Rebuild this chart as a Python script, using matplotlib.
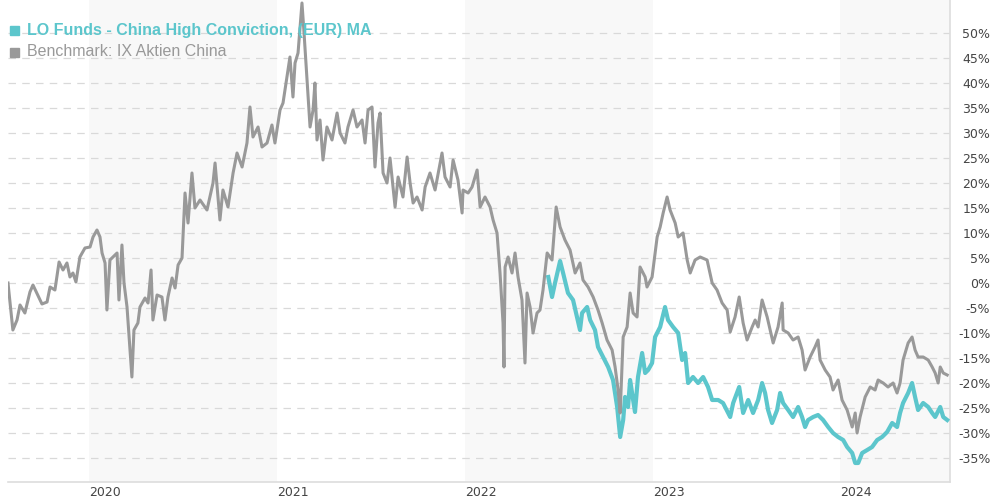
import matplotlib
matplotlib.use("Agg")
import matplotlib.pyplot as plt
from matplotlib.patches import Rectangle

# benchmark: decimal year, performance in %
bench_t = [2019.566, 2019.592, 2019.614, 2019.630, 2019.656, 2019.683, 2019.699, 2019.747, 2019.774, 2019.790,
           2019.816, 2019.838, 2019.859, 2019.880, 2019.896, 2019.912, 2019.928, 2019.949, 2019.976, 2020.003,
           2020.019, 2020.040, 2020.056, 2020.067, 2020.083, 2020.093, 2020.109, 2020.136, 2020.147, 2020.157,
           2020.173, 2020.184, 2020.200, 2020.216, 2020.226, 2020.237, 2020.258, 2020.269, 2020.296, 2020.312,
           2020.328, 2020.338, 2020.360, 2020.386, 2020.402, 2020.418, 2020.440, 2020.456, 2020.472, 2020.493,
           2020.509, 2020.525, 2020.546, 2020.562, 2020.589, 2020.626, 2020.658, 2020.669, 2020.695, 2020.711,
           2020.738, 2020.765, 2020.786, 2020.813, 2020.839, 2020.855, 2020.871, 2020.898, 2020.919, 2020.946,
           2020.972, 2020.988, 2021.015, 2021.031, 2021.052, 2021.068, 2021.084, 2021.095, 2021.111, 2021.132,
           2021.143, 2021.159, 2021.175, 2021.191, 2021.201, 2021.212, 2021.228, 2021.244, 2021.265, 2021.292,
           2021.319, 2021.335, 2021.361, 2021.377, 2021.404, 2021.425, 2021.452, 2021.468, 2021.484, 2021.505,
           2021.521, 2021.537, 2021.548, 2021.564, 2021.585, 2021.601, 2021.628, 2021.644, 2021.670, 2021.692,
           2021.708, 2021.724, 2021.745, 2021.772, 2021.788, 2021.814, 2021.841, 2021.878, 2021.894, 2021.921,
           2021.937, 2021.963, 2021.985, 2021.990, 2022.017, 2022.038, 2022.065, 2022.081, 2022.107, 2022.134,
           2022.150, 2022.171, 2022.187, 2022.203, 2022.208, 2022.214, 2022.230, 2022.251, 2022.267, 2022.283,
           2022.304, 2022.320, 2022.331, 2022.347, 2022.363, 2022.384, 2022.400, 2022.416, 2022.438, 2022.464,
           2022.486, 2022.507, 2022.533, 2022.560, 2022.587, 2022.613, 2022.629, 2022.656, 2022.683, 2022.709,
           2022.731, 2022.757, 2022.784, 2022.800, 2022.816, 2022.827, 2022.843, 2022.864, 2022.880, 2022.896,
           2022.917, 2022.933, 2022.960, 2022.970, 2022.997, 2023.024, 2023.040, 2023.056, 2023.077, 2023.093,
           2023.120, 2023.136, 2023.162, 2023.184, 2023.200, 2023.226, 2023.253, 2023.290, 2023.317, 2023.343,
           2023.370, 2023.397, 2023.413, 2023.439, 2023.461, 2023.482, 2023.503, 2023.530, 2023.546, 2023.562,
           2023.583, 2023.610, 2023.626, 2023.642, 2023.668, 2023.690, 2023.695, 2023.722, 2023.748, 2023.775,
           2023.796, 2023.812, 2023.839, 2023.865, 2023.881, 2023.892, 2023.919, 2023.945, 2023.961, 2023.988,
           2024.009, 2024.036, 2024.063, 2024.079, 2024.089, 2024.105, 2024.132, 2024.159, 2024.185, 2024.201,
           2024.228, 2024.254, 2024.281, 2024.302, 2024.318, 2024.334, 2024.361, 2024.382, 2024.398, 2024.414,
           2024.441, 2024.468, 2024.489, 2024.505, 2024.521, 2024.532, 2024.548, 2024.569]
bench_v = [0, -9.4, -7.4, -4.4, -6, -1.8, -0.4, -4.2, -3.8, -0.8,
           -1.4, 4.2, 2.6, 4, 1.2, 2, 0.2, 5.2, 7, 7.2,
           9.2, 10.6, 9.2, 6, 4, -5.4, 4.6, 5.6, 6, -3.4,
           7.6, 0, -4.8, -13.4, -18.8, -9.4, -8, -4.8, -3, -4,
           2.6, -7.4, -2.4, -2.8, -7.4, -2.8, 1, -1, 3.6, 5,
           18, 12, 22, 15, 16.6, 14.6, 20, 24, 12.6, 18.6,
           15.2, 22, 26, 23.2, 28, 35.2, 29.2, 31.2, 27.2, 28,
           31.6, 28, 34.6, 36, 41.2, 45.2, 37.2, 44, 46, 56,
           50, 40.6, 31.2, 34.6, 40, 28.6, 32.6, 24.6, 31.2, 28.6,
           34, 30, 28, 31.2, 34.6, 31.2, 32.6, 28, 34.6, 35.2,
           23.2, 32, 34, 22, 20, 25, 15.2, 21.2, 17.2, 25.2,
           20, 16, 17.2, 14.6, 19.2, 22, 18.6, 26, 21.2, 19.2,
           24.6, 20.6, 14, 18.6, 18, 19.2, 22.6, 15.2, 17.2, 15.2,
           12.6, 10, 2, -8, -16.8, 3.2, 5.2, 2, 6, 1.2,
           -3.4, -16, -2, -4.8, -10, -6, -5.4, -1.4, 6, 4.6,
           15.2, 11.2, 8.6, 6.6, 2, 4, 0.6, -0.8, -2.8, -5.4,
           -8, -11.4, -13.4, -16.8, -21.4, -26, -10.8, -8.8, -2, -6,
           -6.8, 3.2, 1.2, -0.8, 1.2, 9.2, 11.2, 14, 17.2, 14.6,
           12, 9.2, 10, 4.6, 2, 4.6, 5.2, 4.6, 0, -1.4,
           -4, -5.4, -9.8, -6.8, -2.8, -8, -11.4, -8.8, -7.4, -8.8,
           -3.4, -6.8, -9.4, -12, -8.8, -4, -9.4, -10, -11.4, -10.8,
           -13.4, -17.4, -14.8, -12.8, -11.4, -15.4, -17.4, -18.8, -21.4, -19.4,
           -23.4, -25.4, -28.8, -26, -30, -26.8, -22.8, -20.8, -21.4, -19.4,
           -20, -20.8, -20, -22, -20, -15.4, -12, -10.8, -13.4, -14.8,
           -14.8, -15.4, -16.8, -18, -20, -16.8, -18, -18.4]

# fund: decimal year, performance in %
fund_t = [2022.444, 2022.464, 2022.480, 2022.507, 2022.523, 2022.549, 2022.576, 2022.597, 2022.613, 2022.624,
          2022.651, 2022.667, 2022.693, 2022.709, 2022.736, 2022.763, 2022.789, 2022.811, 2022.827, 2022.843,
          2022.853, 2022.869, 2022.880, 2022.896, 2022.906, 2022.922, 2022.944, 2022.960, 2022.976, 2022.997,
          2023.013, 2023.040, 2023.066, 2023.082, 2023.109, 2023.136, 2023.157, 2023.173, 2023.189, 2023.215,
          2023.242, 2023.269, 2023.295, 2023.317, 2023.349, 2023.375, 2023.413, 2023.429, 2023.461, 2023.482,
          2023.509, 2023.535, 2023.562, 2023.583, 2023.599, 2023.615, 2023.636, 2023.663, 2023.679, 2023.695,
          2023.722, 2023.748, 2023.775, 2023.796, 2023.812, 2023.828, 2023.855, 2023.881, 2023.908, 2023.935,
          2023.961, 2023.988, 2024.015, 2024.036, 2024.063, 2024.079, 2024.095, 2024.116, 2024.143, 2024.169,
          2024.196, 2024.222, 2024.249, 2024.276, 2024.302, 2024.318, 2024.334, 2024.361, 2024.382, 2024.398,
          2024.414, 2024.441, 2024.468, 2024.489, 2024.505, 2024.532, 2024.548, 2024.569]
fund_v = [1.2, -2.8, 0, 4.4, 2, -2, -3.4, -6.8, -9.4, -6,
          -4.8, -7.4, -9.4, -12.8, -14.8, -16.8, -19.4, -24.8, -30.8, -27.4,
          -22.8, -24.8, -19.4, -23.4, -25.8, -18.8, -14, -18, -17.4, -16,
          -10.8, -8.8, -4.8, -7.4, -8.8, -10, -15.4, -14, -20, -18.8,
          -20, -18.8, -20.8, -23.4, -23.4, -24, -26.8, -24, -20.8, -26,
          -23.4, -26, -23.4, -20, -22, -25.4, -28, -25.4, -22, -24,
          -25.4, -26.8, -24.8, -26.8, -28.8, -27.4, -26.8, -26.4, -27.4, -28.8,
          -30, -30.8, -31.4, -32.8, -34, -36, -36, -34, -33.4, -32.8,
          -31.4, -30.8, -29.8, -28, -28.8, -26, -24, -22, -20, -22.8,
          -25.4, -24, -24.8, -26, -26.8, -24.8, -26.8, -27.4]

years = [2020, 2021, 2022, 2023, 2024]
shaded_years = [2020, 2022, 2024]
yticks = list(range(-35, 55, 5))

teal = "#5cc6cc"
grey = "#999999"

fig = plt.figure(figsize=(9.9, 5.0), dpi=100)
ax = fig.add_axes([8 / 990, 18 / 500, 942 / 990, 482 / 500])

for y in shaded_years:
    ax.axvspan(y, y + 1, color="#f8f8f8", lw=0, zorder=0)

for v in yticks:
    ax.axhline(v, color="#d9d9d9", lw=0.9, ls=(0, (6, 5)), zorder=1)

ax.plot(fund_t, fund_v, color=teal, lw=3.0, zorder=3, solid_joinstyle="round")
ax.plot(bench_t, bench_v, color=grey, lw=2.2, zorder=4, solid_joinstyle="round")

ax.set_xlim(2019.566, 2024.584)
ax.set_ylim(-39.8, 56.6)

for s in ["left", "top"]:
    ax.spines[s].set_visible(False)
for s in ["right", "bottom"]:
    ax.spines[s].set_color("#dddddd")
    ax.spines[s].set_linewidth(1.2)

ax.yaxis.tick_right()
ax.set_yticks(yticks)
ax.set_yticklabels([f"{v}%" for v in yticks], ha="right", color="#444444", fontsize=9)
ax.tick_params(axis="y", length=0, pad=29)

ax.set_xticks(years)
ax.set_xticklabels([str(y) for y in years], ha="left", color="#444444", fontsize=9)
ax.tick_params(axis="x", length=0, pad=3)

# legend
fig.add_artist(Rectangle((10 / 990, 1 - 35 / 500), 9 / 990, 9 / 500, color=teal, transform=fig.transFigure))
fig.text(27 / 990, 1 - 30 / 500, "LO Funds - China High Conviction, (EUR) MA", color=teal,
         fontsize=11.5, fontweight="bold", family="Liberation Sans", va="center")
fig.add_artist(Rectangle((10 / 990, 1 - 57 / 500), 9 / 990, 9 / 500, color=grey, transform=fig.transFigure))
fig.text(27 / 990, 1 - 52 / 500, "Benchmark: IX Aktien China", color=grey,
         fontsize=11.5, family="Liberation Sans", va="center")

fig.savefig("out.png", dpi=100)
